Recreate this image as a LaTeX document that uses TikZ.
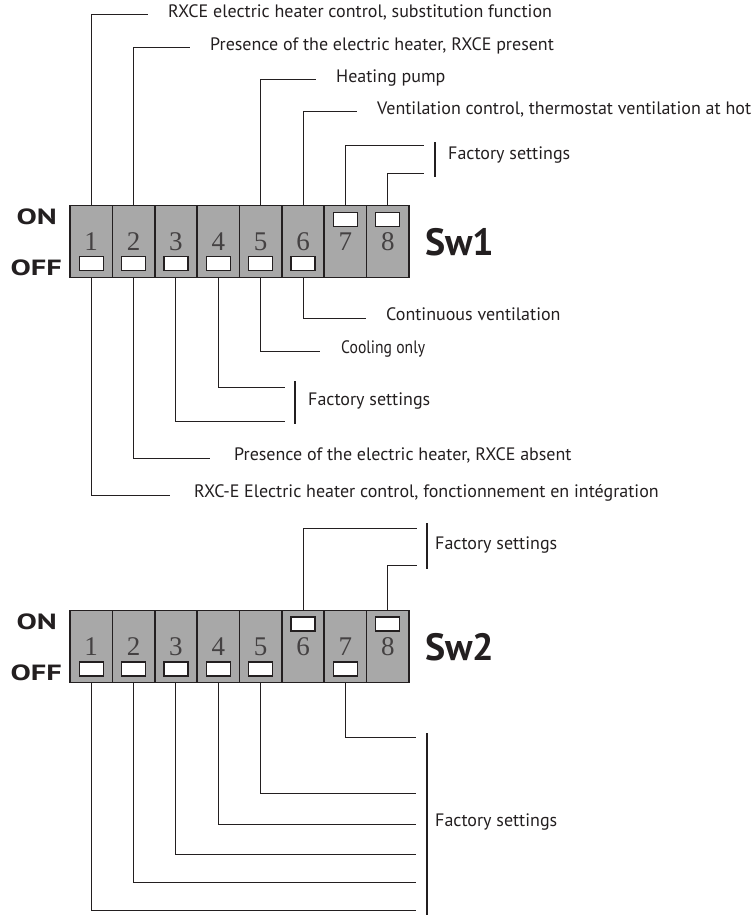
\documentclass[tikz,border=0pt]{standalone}
\usepackage{fontspec}
\setmainfont{PT Sans}
\newfontfamily\numfont{Liberation Serif}
\newfontfamily\onofffont[FakeStretch=1.38]{PT Sans Bold}
\newfontfamily\narrowfont[FakeStretch=0.87]{PT Sans}
\usetikzlibrary{positioning}
\definecolor{cellgray}{HTML}{A8A8A8}
\definecolor{ink}{HTML}{231F20}
\tikzset{
  cell/.style={draw=ink, line width=1.6pt, fill=cellgray, minimum width=42.4pt, minimum height=72pt, inner sep=0pt, font=\numfont\fontsize{27}{27}\selectfont, text=ink!85},
  knob/.style={draw=ink, line width=1.2pt, fill=white, minimum width=24pt, minimum height=14pt, inner sep=0pt},
  lead/.style={draw=ink, line width=1pt},
  bar/.style={draw=ink, line width=1.8pt},
  note/.style={anchor=west, inner sep=0pt, text height=0.72em, text depth=0.22em, font=\fontsize{18}{20}\selectfont, text=ink},
  onoff/.style={anchor=east, inner sep=0pt, font=\onofffont\fontsize{22}{22}\selectfont, text=ink},
  swname/.style={anchor=west, inner sep=0pt, font=\bfseries\fontsize{38}{38}\selectfont, text=ink},
}

\begin{document}
\begin{tikzpicture}[x=1pt, y=-1pt, node distance=20pt]
  \useasboundingbox (0,0) rectangle (750,915);

  % Sw1
  \foreach \i in {1,...,8} \node[cell] (a\i) at ({70+42.375*(\i-0.5)},241.5) {\i};
  \foreach \i in {1,...,6} \node[knob] (ka\i) at ([yshift=-22pt]a\i.center) {};
  \foreach \i in {7,8} \node[knob] (ka\i) at ([yshift=22pt]a\i.center) {};
  \node[onoff] (on1) at (57,217) {ON};
  \node[onoff] (off1) at (62,268) {OFF};
  \node[swname] (sw1) at (425,242) {Sw1};

  \foreach \i/\y/\e in {1/15/148, 2/48/190, 5/80/316, 6/112/357, 7/145/424, 8/173/424} {
    \coordinate (u\i) at (\e,\y);
    \draw[lead] (a\i.north) |- (u\i);
  }
  \node[note, right=of u1] (t1) {RXCE electric heater control, substitution function};
  \node[note, right=of u2] (t2) {Presence of the electric heater, RXCE present};
  \node[note, right=of u5] (t5) {Heating pump};
  \node[note, right=of u6] (t6) {Ventilation control, thermostat ventilation at hot};
  \draw[bar] (435,142) -- (435,177);
  \node[note] (f1) at (448,157) {Factory settings};

  \foreach \i/\y/\e in {1/495/170, 2/458/210, 3/421/285, 4/387/285, 5/351/320, 6/318/366} {
    \coordinate (d\i) at (\e,\y);
    \draw[lead] (a\i.south) |- (d\i);
  }
  \node[note, right=20pt of d6] (s6) {Continuous ventilation};
  \node[note, right=21pt of d5] (s5) {\narrowfont Cooling only};
  \draw[bar] (295,381) -- (295,424);
  \node[note] (f2) at (308,403) {Factory settings};
  \node[note, right=24pt of d2] (s2) {Presence of the electric heater, RXCE absent};
  \node[note, right=24pt of d1] (s1) {RXC-E Electric heater control, fonctionnement en intégration};

  % Sw2
  \foreach \i in {1,...,8} \node[cell] (b\i) at ({70+42.375*(\i-0.5)},646.5) {\i};
  \foreach \i in {1,...,5,7} \node[knob] (kb\i) at ([yshift=-22.5pt]b\i.center) {};
  \foreach \i in {6,8} \node[knob] (kb\i) at ([yshift=22.5pt]b\i.center) {};
  \node[onoff] (on2) at (57,622) {ON};
  \node[onoff] (off2) at (62,673) {OFF};
  \node[swname] (sw2) at (425,647) {Sw2};

  \foreach \i/\y in {6/528, 8/565} {
    \coordinate (v\i) at (417,\y);
    \draw[lead] (b\i.north) |- (v\i);
  }
  \draw[bar] (427,523) -- (427,569);
  \node[note] (f3) at (435,547) {Factory settings};

  \foreach \i/\y in {1/910, 2/882, 3/854, 4/824, 5/793, 7/737} {
    \coordinate (w\i) at (416,\y);
    \draw[lead] (b\i.south) |- (w\i);
  }
  \draw[bar] (427,733) -- (427,915);
  \node[note] (f4) at (435,824) {Factory settings};
\end{tikzpicture}
\end{document}
